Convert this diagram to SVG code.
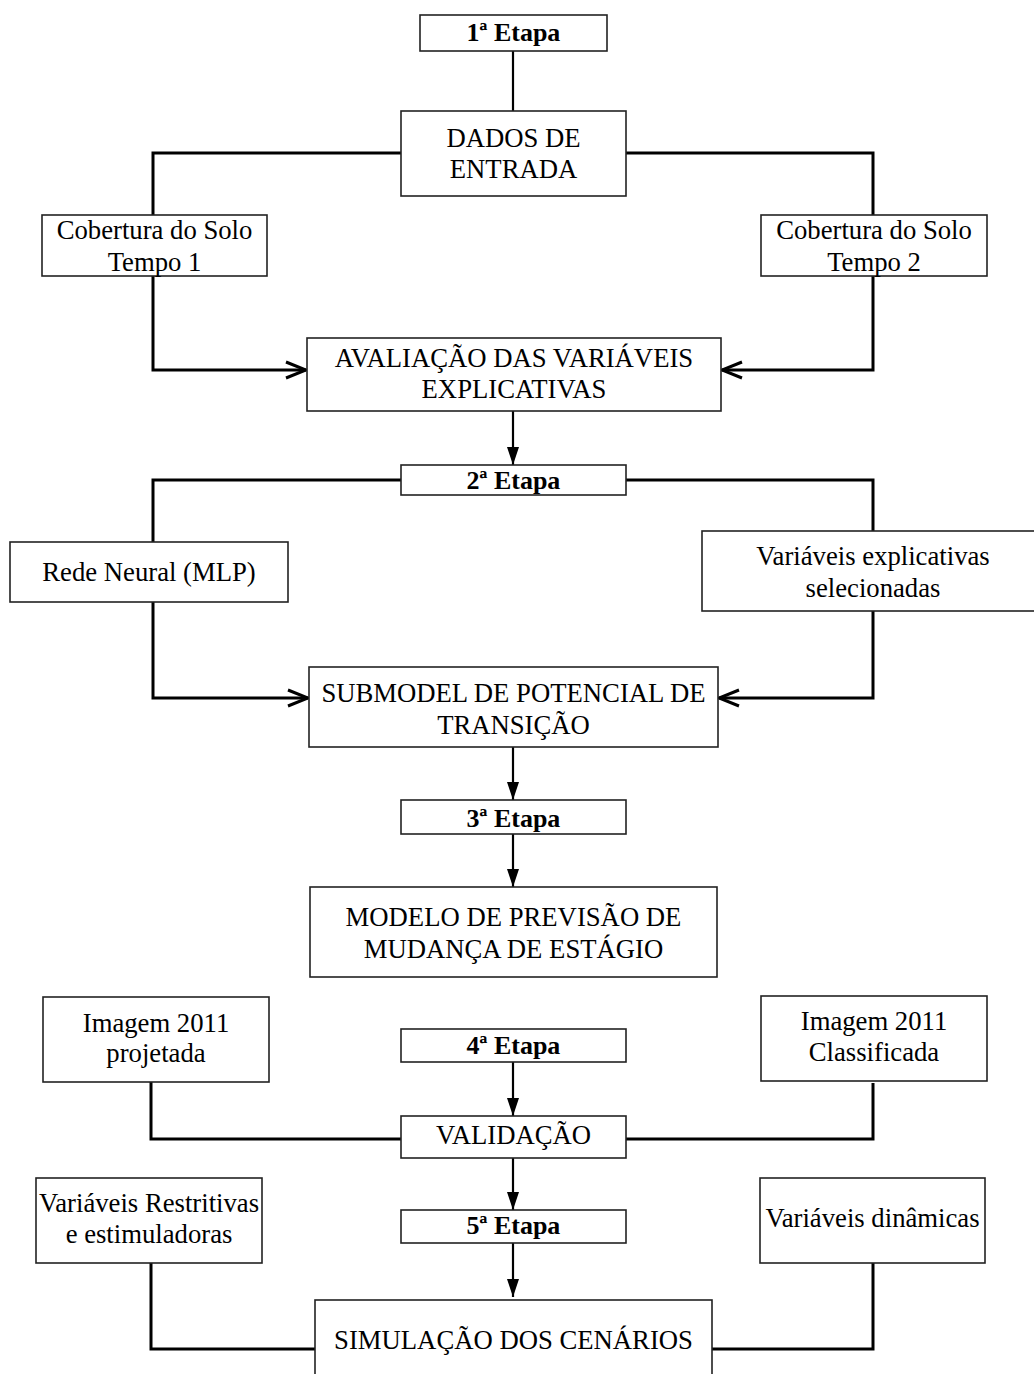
<svg xmlns="http://www.w3.org/2000/svg" width="1034" height="1374" viewBox="0 0 1034 1374">
<style>
.box{fill:#fff;stroke:#222;stroke-width:1.6}
.t{font-family:"Liberation Serif","Times New Roman",serif;font-size:26.7px;fill:#000;text-anchor:middle}
.b{font-weight:bold;font-size:26px}
.c{fill:none;stroke:#000;stroke-width:3}
.v{fill:none;stroke:#000;stroke-width:2.2}
</style>
<defs>
<marker id="open" markerUnits="userSpaceOnUse" viewBox="0 0 24 20" refX="22" refY="10" markerWidth="24" markerHeight="20" orient="auto">
<path d="M2,2 L22,10 L2,18" fill="none" stroke="#000" stroke-width="3"/>
</marker>
<marker id="fill" markerUnits="userSpaceOnUse" viewBox="0 0 18 12" refX="18" refY="6" markerWidth="18" markerHeight="12" orient="auto">
<path d="M0,0 L18,6 L0,12 z" fill="#000"/>
</marker>
</defs>
<rect width="1034" height="1374" fill="#fff"/>
<g id="connectors">
<path class="v" d="M513,51 V111"/>
<path class="c" d="M401,153 H153 V215"/>
<path class="c" d="M626,153 H873 V215"/>
<path class="c" d="M153,276 V370 H306" marker-end="url(#open)"/>
<path class="c" d="M873,276 V370 H722" marker-end="url(#open)"/>
<path class="v" d="M513,411 V465" marker-end="url(#fill)"/>
<path class="c" d="M401,480 H153 V542"/>
<path class="c" d="M626,480 H873 V531"/>
<path class="c" d="M153,602 V698 H308" marker-end="url(#open)"/>
<path class="c" d="M873,611 V698 H719" marker-end="url(#open)"/>
<path class="v" d="M513,747 V800" marker-end="url(#fill)"/>
<path class="v" d="M513,834 V887" marker-end="url(#fill)"/>
<path class="v" d="M513,1062 V1116" marker-end="url(#fill)"/>
<path class="c" d="M151,1082 V1139 H401"/>
<path class="c" d="M873,1083 V1139 H626"/>
<path class="v" d="M513,1158 V1210" marker-end="url(#fill)"/>
<path class="v" d="M513,1243 V1297" marker-end="url(#fill)"/>
<path class="c" d="M151,1263 V1349 H315"/>
<path class="c" d="M873,1263 V1349 H712"/>
</g>
<g id="etapa1"><rect class="box" x="420" y="15" width="187" height="36"/><text class="t b" x="513.5" y="41">1ª Etapa</text></g>
<g id="dados"><rect class="box" x="401" y="111" width="225" height="85"/><text class="t" x="513.5" y="147">DADOS DE</text><text class="t" x="513.5" y="178">ENTRADA</text></g>
<g id="cob1"><rect class="box" x="42" y="215" width="225" height="61"/><text class="t" x="154.5" y="239">Cobertura do Solo</text><text class="t" x="154.5" y="271">Tempo 1</text></g>
<g id="cob2"><rect class="box" x="761" y="215" width="226" height="61"/><text class="t" x="874" y="239">Cobertura do Solo</text><text class="t" x="874" y="271">Tempo 2</text></g>
<g id="avaliacao"><rect class="box" x="307" y="338" width="414" height="73"/><text class="t" x="514" y="367">AVALIAÇÃO DAS VARIÁVEIS</text><text class="t" x="514" y="398">EXPLICATIVAS</text></g>
<g id="etapa2"><rect class="box" x="401" y="465" width="225" height="30"/><text class="t b" x="513.5" y="489">2ª Etapa</text></g>
<g id="rede"><rect class="box" x="10" y="542" width="278" height="60"/><text class="t" x="149" y="581">Rede Neural (MLP)</text></g>
<g id="varexp"><rect class="box" x="702" y="531" width="340" height="80"/><text class="t" x="873" y="565">Variáveis explicativas</text><text class="t" x="873" y="597">selecionadas</text></g>
<g id="submodel"><rect class="box" x="309" y="667" width="409" height="80"/><text class="t" x="513.5" y="702">SUBMODEL DE POTENCIAL DE</text><text class="t" x="513.5" y="734">TRANSIÇÃO</text></g>
<g id="etapa3"><rect class="box" x="401" y="800" width="225" height="34"/><text class="t b" x="513.5" y="827">3ª Etapa</text></g>
<g id="modelo"><rect class="box" x="310" y="887" width="407" height="90"/><text class="t" x="513.5" y="926">MODELO DE PREVISÃO DE</text><text class="t" x="513.5" y="958">MUDANÇA DE ESTÁGIO</text></g>
<g id="imgproj"><rect class="box" x="43" y="997" width="226" height="85"/><text class="t" x="156" y="1032">Imagem 2011</text><text class="t" x="156" y="1062">projetada</text></g>
<g id="imgclass"><rect class="box" x="761" y="996" width="226" height="85"/><text class="t" x="874" y="1030">Imagem 2011</text><text class="t" x="874" y="1061">Classificada</text></g>
<g id="etapa4"><rect class="box" x="401" y="1029" width="225" height="33"/><text class="t b" x="513.5" y="1054">4ª Etapa</text></g>
<g id="validacao"><rect class="box" x="401" y="1116" width="225" height="42"/><text class="t" x="513.5" y="1144">VALIDAÇÃO</text></g>
<g id="varrestr"><rect class="box" x="36" y="1178" width="226" height="85"/><text class="t" x="149" y="1212">Variáveis Restritivas</text><text class="t" x="149" y="1243">e estimuladoras</text></g>
<g id="etapa5"><rect class="box" x="401" y="1210" width="225" height="33"/><text class="t b" x="513.5" y="1234">5ª Etapa</text></g>
<g id="vardin"><rect class="box" x="760" y="1178" width="225" height="85"/><text class="t" x="872.5" y="1227">Variáveis dinâmicas</text></g>
<g id="simulacao"><rect class="box" x="315" y="1300" width="397" height="110"/><text class="t" x="513.5" y="1349">SIMULAÇÃO DOS CENÁRIOS</text></g>
</svg>
